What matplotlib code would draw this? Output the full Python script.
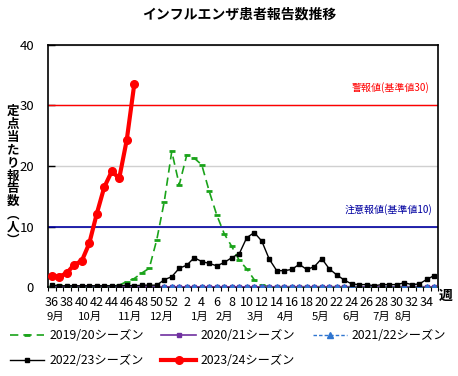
import numpy as np
import matplotlib
matplotlib.use("Agg")
import matplotlib.pyplot as plt

plt.rcParams['font.family'] = ['Noto Sans CJK JP', 'DejaVu Sans']

weeks = list(range(36, 53)) + list(range(1, 36))
week_labels = [str(w) if w % 2 == 0 else "" for w in weeks]
months = ["9月", "10月", "11月", "12月", "1月", "2月", "3月", "4月", "5月", "6月", "7月", "8月"]
month_pos = [0.47, 5.07, 10.4, 14.7, 19.7, 23.07, 27.2, 31.2, 35.9, 39.9, 43.9, 46.9]

s2019 = [0.1, 0.3, 0.1, 0.1, 0.1, 0.1, 0.1, 0.2, 0.2, 0.3, 0.9, 1.4, 2.3, 3.1, 7.8, 14.1, 22.4,
         16.9, 21.8, 21.3, 20.2, 15.8, 11.9, 8.8, 6.7, 4.4, 3.0, 1.2, 0.3,
         0.05, 0.05, 0.05, 0.05, 0.05, 0.05, 0.05, 0.05, 0.05, 0.05, 0.05, 0.05,
         0.05, 0.05, 0.05, 0.05, 0.05, 0.05, 0.05, 0.05, 0.05, 0.05, 0.05]
s2020 = [0.0] * 52
s2021 = [0.0] * 52
s2022 = [0.3, 0.2, 0.2, 0.2, 0.2, 0.2, 0.2, 0.2, 0.2, 0.2, 0.3, 0.2, 0.3, 0.3, 0.3, 1.2, 1.7,
         3.1, 3.6, 4.85, 4.2, 3.9, 3.5, 4.05, 4.85, 5.5, 8.15, 9.0, 7.6, 4.6, 2.7, 2.7,
         2.9, 3.75, 2.9, 3.35, 4.7, 3.0, 2.0, 1.15, 0.5, 0.4, 0.4, 0.2, 0.4, 0.4, 0.4,
         0.7, 0.4, 0.5, 1.25, 1.9]
s2023 = [1.9, 1.7, 2.3, 3.7, 4.3, 7.2, 12.1, 16.5, 19.1, 18.0, 24.3, 33.5]

W, H = 458, 376
fig = plt.figure(figsize=(W / 100, H / 100), dpi=100)
L, R, T, B = 48, 438, 45, 287
ax = fig.add_axes([L / W, 1 - B / H, (R - L) / W, (B - T) / H])

x = np.arange(len(weeks))
h2019, = ax.plot(x, s2019, color='#1AA31A', lw=1.2, ls=(0, (5, 3)), marker='_', ms=4.5, mew=2,
                 zorder=3, label='2019/20シーズン')
h2020, = ax.plot(x, s2020, color='#7030A0', lw=1.2, marker='s', ms=3, zorder=3,
                 label='2020/21シーズン')
h2021, = ax.plot(x, s2021, color='#2E75D0', lw=1, ls=(0, (2.5, 1.5)), marker='^', ms=4, zorder=4,
                 label='2021/22シーズン')
h2022, = ax.plot(x, s2022, color='black', lw=1, marker='s', ms=3.5, zorder=5,
                 label='2022/23シーズン')
h2023, = ax.plot(np.arange(len(s2023)), s2023, color='#FF0000', lw=3, marker='o', ms=5.5, zorder=6,
                 label='2023/24シーズン')

ax.axhline(30, color='#FF0000', lw=1, zorder=2)
ax.axhline(10, color='#0000A0', lw=1.2, zorder=2)
ax.set_yticks([0, 10, 20, 30, 40])
ax.yaxis.grid(True, color='#D0D0D0', lw=1, zorder=1)
ax.set_axisbelow(True)

ax.set_xlim(-0.5, len(weeks) - 0.5)
ax.set_ylim(0, 40)
ax.set_xticks(x)
ax.set_xticklabels(week_labels, fontsize=9)
ax.set_xticks(np.arange(-0.5, len(weeks), 1), minor=True)
ax.tick_params(axis='x', which='major', length=0, pad=6.5)
ax.tick_params(axis='x', which='minor', length=3, direction='out', width=0.8)
ax.tick_params(axis='y', which='major', length=5, direction='in', pad=10, labelsize=9.5, width=1)
for s in ax.spines.values():
    s.set_linewidth(1.2)
    s.set_color('black')

xt = ax.get_xaxis_transform()
for m, p in zip(months, month_pos):
    ax.text(p, -0.122, m, transform=xt, ha='center', va='center', fontsize=8.2)

ax.text(0.979, 0.826, '警報値(基準値30)', transform=ax.transAxes, ha='right', va='center',
        color='#FF0000', fontsize=7.2)
ax.text(0.985, 0.322, '注意報値(基準値10)', transform=ax.transAxes, ha='right', va='center',
        color='#0000A0', fontsize=7.2)

fig.text(446 / W, 1 - 296 / H, '週', ha='center', va='center', fontsize=10, fontweight='bold')
fig.text(239 / W, 1 - 14 / H, 'インフルエンザ患者報告数推移', ha='center', va='center',
         fontsize=10, fontweight='bold')
fig.text(13 / W, 1 - 176 / H, '\n'.join('定点当たり報告数︵人︶'), ha='center', va='center',
         fontsize=9, fontweight='bold', linespacing=0.99)

handles = [h2019, h2022, h2020, h2023, h2021]
fig.legend(handles=handles, labels=[h.get_label() for h in handles], ncol=3,
           loc='upper left', bbox_to_anchor=(10 / W, 1 - 329 / H), frameon=False,
           fontsize=8.8, handlelength=2.8, handletextpad=0.4, columnspacing=1.45,
           labelspacing=1.0, borderpad=0, borderaxespad=0)

fig.savefig('out.png', dpi=100)
